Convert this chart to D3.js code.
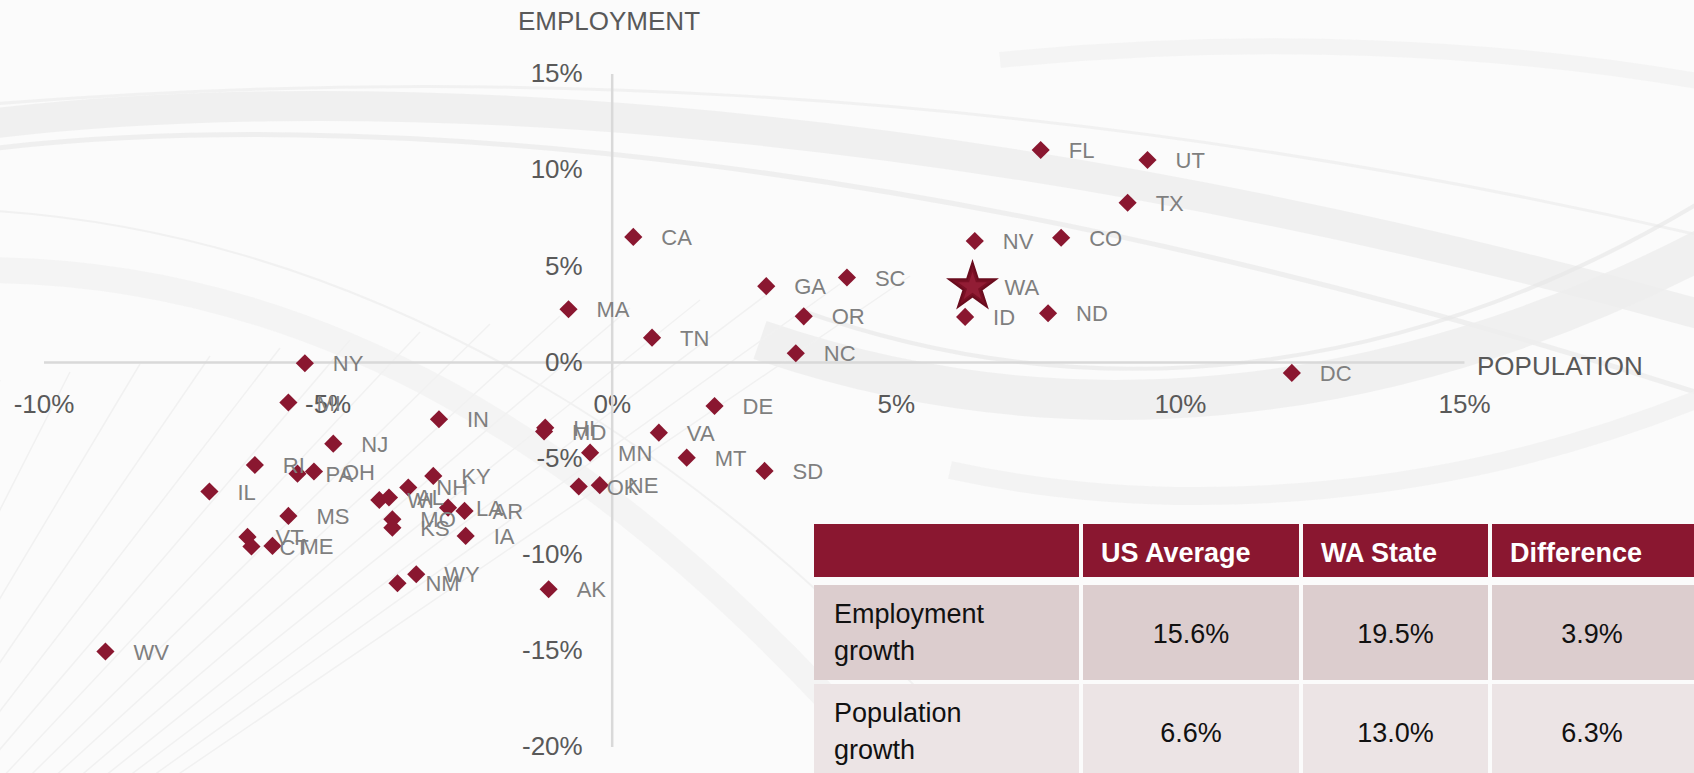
<!DOCTYPE html>
<html>
<head>
<meta charset="utf-8">
<script src="https://cdn.jsdelivr.net/npm/d3@7"></script>
<style>
  html, body { margin: 0; padding: 0; background: #fbfbfb; }
  svg { display: block; font-family: "Liberation Sans", Arial, sans-serif; }
</style>
</head>
<body>
<div id="graph"></div>
<script>

// DATA

// difference from US average, in percentage points
var states = ["FL", "UT", "TX", "NV", "CO", "WA", "ID", "ND", "SC", "GA",
              "OR", "NC", "CA", "MA", "TN", "NY", "DC", "DE", "VA", "MT",
              "SD", "MN", "HI", "MD", "OK", "NE", "AK", "MI", "IN", "NJ",
              "RI", "PA", "OH", "IL", "KY", "NH", "WI", "AL", "LA", "AR",
              "MS", "MO", "KS", "IA", "VT", "CT", "ME", "WY", "NM", "WV"];

var population = [7.55, 9.43, 9.08, 6.39, 7.91, 6.35, 6.22, 7.68, 4.14, 2.72,
                  3.38, 3.24, 0.38, -0.76, 0.71, -5.40, 11.97, 1.81, 0.83, 1.32,
                  2.69, -0.38, -1.17, -1.19, -0.58, -0.21, -1.11, -5.69, -3.04, -4.90,
                  -6.28, -5.53, -5.24, -7.08, -3.14, -3.58, -4.09, -3.92, -2.88, -2.59,
                  -5.69, -3.86, -3.86, -2.57, -6.41, -6.34, -5.97, -3.44, -3.77, -8.91];

var employment = [11.02, 10.50, 8.28, 6.29, 6.46, 3.90, 2.34, 2.53, 4.39, 3.94,
                  2.37, 0.45, 6.50, 2.74, 1.26, -0.07, -0.57, -2.29, -3.68, -4.98,
                  -5.67, -4.72, -3.42, -3.62, -6.48, -6.41, -11.82, -2.11, -2.98, -4.25,
                  -5.36, -5.81, -5.70, -6.74, -5.93, -6.53, -7.18, -7.05, -7.58, -7.75,
                  -8.01, -8.18, -8.62, -9.05, -9.10, -9.60, -9.57, -11.04, -11.51, -15.06];

var highlight = "WA";

var xTicks = [-10, -5, 0, 5, 10, 15];
var yTicks = [-20, -15, -10, -5, 0, 5, 10, 15];

var tableHeader = ["", "US Average", "WA State", "Difference"];
var tableRowLabels = [["Employment", "growth"], ["Population", "growth"]];
var usAverage = [15.6, 6.6];
var waState = [19.5, 13.0];
var difference = [3.9, 6.3];

// D3 CODE

var width = 1694;
var height = 773;

var red = "#8a1730";

var svg = d3.select("#graph")
    .append("svg")
    .attr("width", width)
    .attr("height", height);

// background swooshes (decoration only)
var deco = svg.append("g").attr("fill", "none");

deco.append("rect")
    .attr("width", width)
    .attr("height", height)
    .attr("fill", "#fbfbfb");

var bands = [
    { d: "M-20,125 C300,85 900,90 1720,320", w: 30, c: "#eeeeee", o: 0.8 },
    { d: "M-20,150 C350,105 950,150 1720,400", w: 5, c: "#e8e8e8", o: 0.6 },
    { d: "M-20,105 C400,70 1000,70 1720,240", w: 3, c: "#ebebeb", o: 0.6 },
    { d: "M-20,270 C300,270 600,430 900,780", w: 26, c: "#f2f2f2", o: 0.8 },
    { d: "M-20,210 C350,230 700,430 1000,780", w: 2, c: "#ececec", o: 0.7 },
    { d: "M760,340 C1050,440 1380,420 1720,240", w: 40, c: "#ededed", o: 0.8 },
    { d: "M800,310 C1080,410 1400,390 1720,190", w: 4, c: "#e6e6e6", o: 0.6 },
    { d: "M950,470 C1180,520 1460,500 1720,390", w: 18, c: "#f1f1f1", o: 0.8 },
    { d: "M1000,60 C1250,35 1500,45 1720,85", w: 16, c: "#f3f3f3", o: 0.8 }
];

deco.selectAll("path.band")
    .data(bands)
    .enter()
    .append("path")
    .attr("class", "band")
    .attr("d", function (b) { return b.d; })
    .attr("stroke", function (b) { return b.c; })
    .attr("stroke-width", function (b) { return b.w; })
    .attr("opacity", function (b) { return b.o; });

// faint perspective grid lower left
var fan = d3.range(0, 14);
deco.selectAll("line.fan")
    .data(fan)
    .enter()
    .append("line")
    .attr("class", "fan")
    .attr("x1", -300)
    .attr("y1", 1100)
    .attr("x2", function (i) { return i * 70; })
    .attr("y2", function (i) { return 380 - i * 8; })
    .attr("stroke", "#f1f1f1")
    .attr("stroke-width", 1.5);

var x = d3.scaleLinear()
    .domain([-10, 15])
    .range([43.5, 1464]);

var y = d3.scaleLinear()
    .domain([-20, 15])
    .range([746.5, 73.5]);

function pct(d) {
    return d + "%";
}

// axes
var xAxis = svg.append("g")
    .attr("transform", "translate(0," + y(0) + ")")
    .call(d3.axisBottom(x).tickValues(xTicks).tickFormat(pct).tickSize(0).tickSizeOuter(0).tickPadding(33));

var yAxis = svg.append("g")
    .attr("transform", "translate(" + x(0) + ",0)")
    .call(d3.axisLeft(y).tickValues(yTicks).tickFormat(pct).tickSize(0).tickSizeOuter(0).tickPadding(29));

svg.selectAll(".domain")
    .attr("stroke", "#d9d9d9")
    .attr("stroke-width", 2.5);

svg.selectAll(".tick text")
    .attr("font-family", "'Liberation Sans', Arial, sans-serif")
    .attr("font-size", 26)
    .attr("fill", "#595959");

svg.append("text")
    .attr("x", 609)
    .attr("y", 30)
    .attr("text-anchor", "middle")
    .attr("font-size", 26)
    .attr("fill", "#595959")
    .text("EMPLOYMENT");

svg.append("text")
    .attr("x", 1477)
    .attr("y", 375)
    .attr("font-size", 26)
    .attr("fill", "#595959")
    .text("POPULATION");

// points
var points = states.map(function (s, i) {
    return { name: s, px: population[i], ey: employment[i] };
});

var diamond = d3.symbol().type(d3.symbolSquare).size(165);
var star = d3.symbol().type(d3.symbolStar).size(680);
var innerStar = d3.symbol().type(d3.symbolStar).size(260);

var dots = svg.append("g");

dots.selectAll("path.dot")
    .data(points.filter(function (p) { return p.name !== highlight; }))
    .enter()
    .append("path")
    .attr("class", "dot")
    .attr("d", diamond)
    .attr("transform", function (p) {
        return "translate(" + x(p.px) + "," + y(p.ey) + ") rotate(45)";
    })
    .attr("fill", red);

var hl = points.filter(function (p) { return p.name === highlight; });

dots.selectAll("path.star")
    .data(hl)
    .enter()
    .append("path")
    .attr("class", "star")
    .attr("d", star)
    .attr("transform", function (p) {
        return "translate(" + x(p.px) + "," + y(p.ey) + ")";
    })
    .attr("fill", "#7a1025")
    .attr("stroke", "#6a0c1e")
    .attr("stroke-width", 2)
    .attr("stroke-linejoin", "miter");

dots.selectAll("path.starinner")
    .data(hl)
    .enter()
    .append("path")
    .attr("class", "starinner")
    .attr("d", innerStar)
    .attr("transform", function (p) {
        return "translate(" + x(p.px) + "," + y(p.ey) + ")";
    })
    .attr("fill", "#921d35");

dots.selectAll("text.label")
    .data(points)
    .enter()
    .append("text")
    .attr("class", "label")
    .attr("x", function (p) { return x(p.px) + (p.name === highlight ? 32 : 28); })
    .attr("y", function (p) { return y(p.ey) + 8; })
    .attr("font-size", 22)
    .attr("fill", "#7f7f7f")
    .text(function (p) { return p.name; });

// TABLE

var colEdges = [814, 1081, 1301, 1490, 1694];
var rowEdges = [524, 577];
var gap = 2;

var table = svg.append("g");

table.selectAll("rect.head")
    .data(tableHeader)
    .enter()
    .append("rect")
    .attr("class", "head")
    .attr("x", function (d, i) { return colEdges[i] + (i > 0 ? gap : 0); })
    .attr("y", rowEdges[0])
    .attr("width", function (d, i) { return colEdges[i + 1] - colEdges[i] - (i > 0 ? gap : 0) - (i < 3 ? gap : 0); })
    .attr("height", rowEdges[1] - rowEdges[0])
    .attr("fill", red);

table.selectAll("text.head")
    .data(tableHeader)
    .enter()
    .append("text")
    .attr("class", "head")
    .attr("x", function (d, i) { return colEdges[i] + 20; })
    .attr("y", 562)
    .attr("font-size", 27)
    .attr("font-weight", "bold")
    .attr("fill", "#ffffff")
    .text(function (d) { return d; });

var rowFills = ["#dccdce", "#ece4e5"];
var rowTop = [585, 684];
var rowBottom = [680, 773];

tableRowLabels.forEach(function (label, r) {
    var cells = [null, usAverage[r], waState[r], difference[r]];
    var g = table.append("g");

    g.selectAll("rect")
        .data(cells)
        .enter()
        .append("rect")
        .attr("x", function (d, i) { return colEdges[i] + (i > 0 ? gap : 0); })
        .attr("y", rowTop[r])
        .attr("width", function (d, i) { return colEdges[i + 1] - colEdges[i] - (i > 0 ? gap : 0) - (i < 3 ? gap : 0); })
        .attr("height", rowBottom[r] - rowTop[r])
        .attr("fill", rowFills[r]);

    g.selectAll("text.rowlabel")
        .data(label)
        .enter()
        .append("text")
        .attr("class", "rowlabel")
        .attr("x", 834)
        .attr("y", function (d, j) { return rowTop[r] + 38 + j * 37; })
        .attr("font-size", 27)
        .attr("fill", "#111111")
        .text(function (d) { return d; });

    g.selectAll("text.value")
        .data(cells.slice(1))
        .enter()
        .append("text")
        .attr("class", "value")
        .attr("x", function (d, i) { return (colEdges[i + 1] + colEdges[i + 2]) / 2; })
        .attr("y", rowTop[r] + 58)
        .attr("text-anchor", "middle")
        .attr("font-size", 27)
        .attr("fill", "#111111")
        .text(function (d) { return d.toFixed(1) + "%"; });
});

</script>
</body>
</html>
